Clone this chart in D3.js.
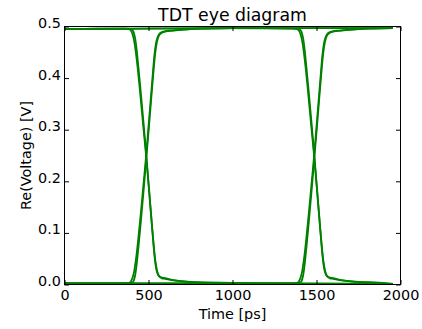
<!DOCTYPE html>
<html>
<head>
<meta charset="utf-8">
<script src="https://cdn.jsdelivr.net/npm/d3@7"></script>
<style>
  html, body { margin: 0; padding: 0; background: #fff; }
  svg { display: block; font-family: "DejaVu Sans", sans-serif; }
</style>
</head>
<body>
<svg id="chart" width="422" height="329"></svg>
<script>
// Axis ticks
const xTicks = [0, 500, 1000, 1500, 2000];
const xTickLabels = ["0", "500", "1000", "1500", "2000"];
const yTicks = [0.0, 0.1, 0.2, 0.3, 0.4, 0.5];
const yTickLabels = ["0.0", "0.1", "0.2", "0.3", "0.4", "0.5"];

// Edge segments [time ps, volts]; first bit boundary near 486 ps, second near 1486 ps
const fallEdge1A = [[360,0.496],[385,0.495],[395,0.492],[405,0.485],[415,0.471],[425,0.449],[435,0.421],[445,0.389],[455,0.355],[465,0.320],[475,0.286],[485,0.252],[495,0.215],[505,0.175],[515,0.135],[525,0.095],[535,0.058],[545,0.032],[555,0.020],[565,0.015],[580,0.012],[600,0.011],[630,0.009],[680,0.007],[750,0.005],[850,0.004],[1000,0.003]];
const riseEdge1A = [[360,0.002],[385,0.003],[395,0.006],[405,0.013],[415,0.026],[425,0.048],[435,0.076],[445,0.108],[455,0.141],[465,0.176],[475,0.211],[485,0.247],[495,0.286],[505,0.326],[515,0.366],[525,0.406],[535,0.444],[545,0.468],[555,0.480],[565,0.486],[580,0.489],[600,0.491],[630,0.492],[680,0.493],[750,0.495],[850,0.496],[1000,0.497]];
const fallEdge1B = [[380,0.496],[400,0.494],[410,0.490],[420,0.478],[430,0.454],[440,0.421],[450,0.387],[460,0.351],[470,0.315],[480,0.277],[490,0.238],[500,0.198],[510,0.158],[520,0.118],[530,0.080],[540,0.048],[550,0.028],[560,0.018],[575,0.014],[590,0.013],[605,0.012],[640,0.009],[700,0.006],[800,0.004],[1000,0.002]];
const riseEdge1B = [[380,0.002],[400,0.003],[410,0.006],[420,0.017],[430,0.040],[440,0.072],[450,0.106],[460,0.142],[470,0.179],[480,0.217],[490,0.256],[500,0.295],[510,0.335],[520,0.375],[530,0.414],[540,0.448],[550,0.470],[560,0.481],[575,0.487],[600,0.490],[640,0.492],[700,0.494],[800,0.496],[1000,0.497]];

const fallEdge2A = [[1360,0.496],[1385,0.495],[1395,0.492],[1405,0.485],[1415,0.471],[1425,0.449],[1435,0.421],[1445,0.389],[1455,0.355],[1465,0.320],[1475,0.286],[1485,0.252],[1495,0.215],[1505,0.175],[1515,0.135],[1525,0.095],[1535,0.058],[1545,0.032],[1555,0.020],[1565,0.015],[1580,0.012],[1600,0.011],[1630,0.009],[1680,0.007],[1750,0.005],[1850,0.004]];
const riseEdge2A = [[1360,0.002],[1385,0.003],[1395,0.006],[1405,0.013],[1415,0.026],[1425,0.048],[1435,0.076],[1445,0.108],[1455,0.141],[1465,0.176],[1475,0.211],[1485,0.247],[1495,0.286],[1505,0.326],[1515,0.366],[1525,0.406],[1535,0.444],[1545,0.468],[1555,0.480],[1565,0.486],[1580,0.489],[1600,0.491],[1630,0.492],[1680,0.493],[1750,0.495],[1850,0.496]];
const fallEdge2B = [[1380,0.496],[1400,0.494],[1410,0.490],[1420,0.478],[1430,0.454],[1440,0.421],[1450,0.387],[1460,0.351],[1470,0.315],[1480,0.277],[1490,0.238],[1500,0.198],[1510,0.158],[1520,0.118],[1530,0.080],[1540,0.048],[1550,0.028],[1560,0.018],[1575,0.014],[1590,0.013],[1605,0.012],[1640,0.009],[1700,0.006],[1800,0.004]];
const riseEdge2B = [[1380,0.002],[1400,0.003],[1410,0.006],[1420,0.017],[1430,0.040],[1440,0.072],[1450,0.106],[1460,0.142],[1470,0.179],[1480,0.217],[1490,0.256],[1500,0.295],[1510,0.335],[1520,0.375],[1530,0.414],[1540,0.448],[1550,0.470],[1560,0.481],[1575,0.487],[1600,0.490],[1640,0.492],[1700,0.494],[1800,0.496]];

// Overlaid waveform segments of the eye
const traces = [
  [[0,0.495],[400,0.496],[1000,0.497],[1500,0.497],[1955,0.497]],
  [[0,0.002],[1000,0.002],[1955,0.001]],
  [[0,0.495],[200,0.496]].concat(fallEdge1A, [[1300,0.002],[1955,0.001]]),
  [[0,0.002],[200,0.002]].concat(riseEdge1A, [[1300,0.497],[1955,0.497]]),
  [[0,0.495],[600,0.496],[1200,0.497]].concat(fallEdge2B, [[1955,0.001]]),
  [[0,0.002],[1200,0.002]].concat(riseEdge2B, [[1955,0.497]]),
  [[0,0.495],[200,0.496]].concat(fallEdge1B, riseEdge2A, [[1955,0.497]]),
  [[0,0.002],[200,0.002]].concat(riseEdge1B, fallEdge2A, [[1955,0.001]])
];

const plotLeft = 64.5, plotRight = 400.5, plotTop = 26.5, plotBottom = 284.5;
const svg = d3.select("#chart");

const x = d3.scaleLinear().domain([0, 2000]).range([plotLeft, plotRight]);
const y = d3.scaleLinear().domain([0, 0.5]).range([plotBottom, plotTop]);

svg.append("clipPath").attr("id", "plot-clip")
  .append("rect").attr("x", plotLeft).attr("y", plotTop - 2)
  .attr("width", plotRight - plotLeft).attr("height", plotBottom - plotTop + 4);

const line = d3.line()
  .x(d => x(d[0]))
  .y(d => y(d[1]))
  .curve(d3.curveMonotoneX);

svg.append("g").attr("clip-path", "url(#plot-clip)")
  .selectAll("path").data(traces).join("path")
  .attr("d", line)
  .attr("fill", "none")
  .attr("stroke", "#008000")
  .attr("stroke-width", 1.8)
  .attr("stroke-linejoin", "round");

const fontSize = 14.4;
const tickLen = 4.5;

// Bottom axis with labels, ticks pointing inward
const gx = svg.append("g").attr("transform", `translate(0,${plotBottom})`)
  .call(d3.axisBottom(x).tickValues(xTicks)
    .tickFormat((d, i) => xTickLabels[i])
    .tickSizeInner(-tickLen).tickSizeOuter(0).tickPadding(5.3));
// Top axis ticks only
const gxt = svg.append("g").attr("transform", `translate(0,${plotTop})`)
  .call(d3.axisTop(x).tickValues(xTicks).tickFormat("")
    .tickSizeInner(-tickLen).tickSizeOuter(0));
// Left axis with labels
const gy = svg.append("g").attr("transform", `translate(${plotLeft},0)`)
  .call(d3.axisLeft(y).tickValues(yTicks)
    .tickFormat((d, i) => yTickLabels[i])
    .tickSizeInner(-tickLen).tickSizeOuter(0).tickPadding(3.5));
// Right axis ticks only
const gyr = svg.append("g").attr("transform", `translate(${plotRight},0)`)
  .call(d3.axisRight(y).tickValues(yTicks).tickFormat("")
    .tickSizeInner(-tickLen).tickSizeOuter(0));

[gx, gxt, gy, gyr].forEach(g => {
  g.select(".domain").remove();
  g.selectAll(".tick line").attr("stroke", "#000").attr("stroke-width", 1);
  g.selectAll(".tick text")
    .attr("fill", "#000")
    .attr("font-family", "DejaVu Sans")
    .attr("font-size", fontSize);
});
gy.selectAll(".tick text").attr("dy", "1px");

// Frame
svg.append("rect")
  .attr("x", plotLeft).attr("y", plotTop)
  .attr("width", plotRight - plotLeft).attr("height", plotBottom - plotTop)
  .attr("fill", "none").attr("stroke", "#000").attr("stroke-width", 1);

// Title and axis labels
svg.append("text")
  .attr("x", (plotLeft + plotRight) / 2).attr("y", 20.5)
  .attr("text-anchor", "middle")
  .attr("font-size", 17.3)
  .attr("fill", "#000")
  .text("TDT eye diagram");

svg.append("text")
  .attr("x", (plotLeft + plotRight) / 2).attr("y", 318.5)
  .attr("text-anchor", "middle")
  .attr("font-size", fontSize)
  .attr("fill", "#000")
  .text("Time [ps]");

svg.append("text")
  .attr("transform", `translate(30.5,${(plotTop + plotBottom) / 2}) rotate(-90)`)
  .attr("text-anchor", "middle")
  .attr("font-size", fontSize)
  .attr("fill", "#000")
  .text("Re(Voltage) [V]");
</script>
</body>
</html>
